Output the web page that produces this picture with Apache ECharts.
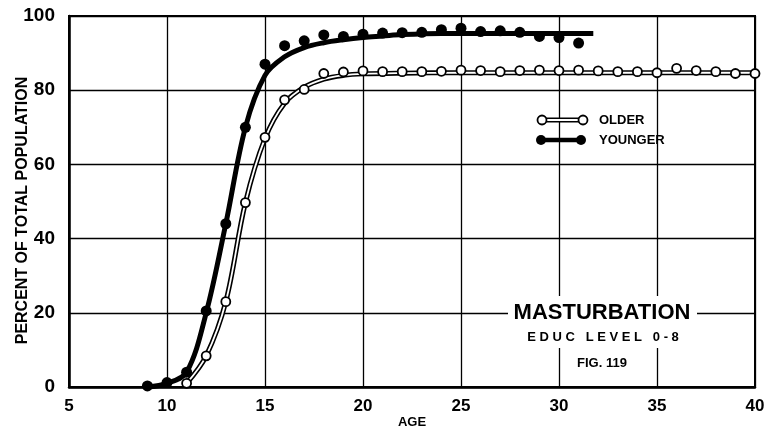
<!DOCTYPE html>
<html>
<head>
<meta charset="utf-8">
<script src="https://cdn.jsdelivr.net/npm/echarts@6/dist/echarts.min.js"></script>
<style>
  html, body { margin: 0; padding: 0; background: #fff; }
  #graph { width: 765px; height: 434px; }
</style>
</head>
<body>
<div id="graph"></div>
<script>
// values
var youngerAges = [9, 10, 11, 12, 13, 14, 15, 16, 17, 18, 19, 20, 21, 22, 23, 24, 25, 26, 27, 28, 29, 30, 31];
var youngerPts = [0.3, 1.2, 4, 20.5, 44, 70, 87, 92, 93.3, 94.9, 94.5, 95.1, 95.4, 95.5, 95.6, 96.3, 96.7, 95.8, 96, 95.6, 94.5, 94.2, 92.7];
var youngerCurveAges = [9, 10, 11, 12, 13, 14, 15, 16, 17, 18, 19, 20, 21, 22, 24, 26, 28, 30, 31.75];
var youngerCurve = [0, 1, 4, 20, 44, 70, 84, 89, 91.5, 92.8, 93.6, 94.2, 94.6, 95, 95.3, 95.3, 95.3, 95.3, 95.3];

var olderAges = [11, 12, 13, 14, 15, 16, 17, 18, 19, 20, 21, 22, 23, 24, 25, 26, 27, 28, 29, 30, 31, 32, 33, 34, 35, 36, 37, 38, 39, 40];
var olderPts = [1, 8.4, 23, 49.7, 67.3, 77.4, 80.2, 84.5, 84.9, 85.2, 85, 85, 85, 85.1, 85.4, 85.3, 85, 85.3, 85.4, 85.3, 85.4, 85.2, 85, 85, 84.7, 85.9, 85.3, 85, 84.5, 84.5];
var olderCurveAges = [11, 12, 13, 14, 15, 16, 17, 18, 19, 20, 22, 25, 30, 35, 40];
var olderCurve = [1, 8.4, 23, 49.7, 67, 76.5, 80.8, 83, 84, 84.4, 84.6, 84.7, 84.7, 84.7, 84.7];

function pairs(xs, ys) {
    var list = [];
    for (var i = 0; i < xs.length; i++) list.push([xs[i], ys[i]]);
    return list;
}

var font = 'Liberation Sans';
var myChart = echarts.init(document.getElementById('graph'));

var option = {
    animation: false,
    textStyle: { fontFamily: font },
    grid: {
        left: 69, right: 10, top: 16, bottom: 47,
        outerBoundsMode: 'none',
        containLabel: false,
        show: true,
        borderColor: '#000',
        borderWidth: 2
    },
    xAxis: {
        type: 'value',
        min: 5, max: 40, interval: 5,
        name: 'AGE',
        nameLocation: 'middle',
        nameGap: 29,
        nameMoveOverlap: false,
        nameTextStyle: { color: '#000', fontSize: 13, fontWeight: 'bold' },
        axisLine: { lineStyle: { color: '#000', width: 2.5 } },
        axisTick: { show: false },
        axisLabel: { color: '#000', fontSize: 17, fontWeight: 'bold', margin: 11 },
        splitLine: { lineStyle: { color: '#000', width: 1.3 } }
    },
    yAxis: {
        type: 'value',
        min: 0, max: 100, interval: 20,
        name: 'PERCENT OF TOTAL POPULATION',
        nameLocation: 'middle',
        nameGap: 38,
        nameMoveOverlap: false,
        nameTextStyle: { color: '#000', fontSize: 16, fontWeight: 'bold', padding: [0, 18, 0, 0] },
        axisLine: { lineStyle: { color: '#000', width: 2.5 } },
        axisTick: { show: false },
        axisLabel: { color: '#000', fontSize: 19, fontWeight: 'bold', margin: 14 },
        splitLine: { lineStyle: { color: '#000', width: 1.3 } }
    },
    series: [
        {
            name: 'OLDER curve',
            type: 'line',
            smooth: 0.35,
            symbol: 'none',
            z: 3,
            lineStyle: { color: '#000', width: 5 },
            data: pairs(olderCurveAges, olderCurve)
        },
        {
            name: 'OLDER curve inner',
            type: 'line',
            smooth: 0.35,
            symbol: 'none',
            z: 4,
            lineStyle: { color: '#fff', width: 1.8 },
            data: pairs(olderCurveAges, olderCurve)
        },
        {
            name: 'OLDER',
            type: 'scatter',
            symbol: 'circle',
            symbolSize: 9,
            z: 5,
            itemStyle: { color: '#fff', borderColor: '#000', borderWidth: 1.8, opacity: 1 },
            data: pairs(olderAges, olderPts)
        },
        {
            name: 'YOUNGER curve',
            type: 'line',
            smooth: 0.35,
            symbol: 'none',
            z: 6,
            lineStyle: { color: '#000', width: 5 },
            data: pairs(youngerCurveAges, youngerCurve)
        },
        {
            name: 'YOUNGER',
            type: 'scatter',
            symbol: 'circle',
            symbolSize: 11,
            z: 7,
            itemStyle: { color: '#000', opacity: 1 },
            data: pairs(youngerAges, youngerPts)
        }
    ],
    graphic: [
        // legend
        { type: 'line', z: 100, shape: { x1: 542, y1: 120, x2: 583, y2: 120 }, style: { stroke: '#000', lineWidth: 5 } },
        { type: 'line', z: 101, shape: { x1: 542, y1: 120, x2: 583, y2: 120 }, style: { stroke: '#fff', lineWidth: 1.8 } },
        { type: 'circle', z: 102, shape: { cx: 542, cy: 120, r: 4.5 }, style: { fill: '#fff', stroke: '#000', lineWidth: 1.8 } },
        { type: 'circle', z: 102, shape: { cx: 583, cy: 120, r: 4.5 }, style: { fill: '#fff', stroke: '#000', lineWidth: 1.8 } },
        { type: 'text', z: 102, x: 599, y: 120, style: { text: 'OLDER', fill: '#000', font: 'bold 13px ' + font, textVerticalAlign: 'middle' } },
        { type: 'line', z: 100, shape: { x1: 541, y1: 140, x2: 581, y2: 140 }, style: { stroke: '#000', lineWidth: 4.5 } },
        { type: 'circle', z: 102, shape: { cx: 541, cy: 140, r: 5 }, style: { fill: '#000' } },
        { type: 'circle', z: 102, shape: { cx: 581, cy: 140, r: 5 }, style: { fill: '#000' } },
        { type: 'text', z: 102, x: 599, y: 140, style: { text: 'YOUNGER', fill: '#000', font: 'bold 13px ' + font, textVerticalAlign: 'middle' } },
        // title block
        { type: 'rect', z: 100, shape: { x: 508, y: 296, width: 189, height: 52 }, style: { fill: '#fff' } },
        { type: 'text', z: 102, x: 602, y: 313, style: { text: 'MASTURBATION', fill: '#000', font: 'bold 22px ' + font, textAlign: 'center', textVerticalAlign: 'middle' } },
        { type: 'text', z: 102, x: 603, y: 337, style: { text: 'E D U C   L E V E L   0 - 8', fill: '#000', font: 'bold 13px ' + font, textAlign: 'center', textVerticalAlign: 'middle' } },
        { type: 'text', z: 102, x: 602, y: 363, style: { text: 'FIG. 119', fill: '#000', font: 'bold 13px ' + font, textAlign: 'center', textVerticalAlign: 'middle' } }
    ]
};

myChart.setOption(option);
</script>
</body>
</html>
